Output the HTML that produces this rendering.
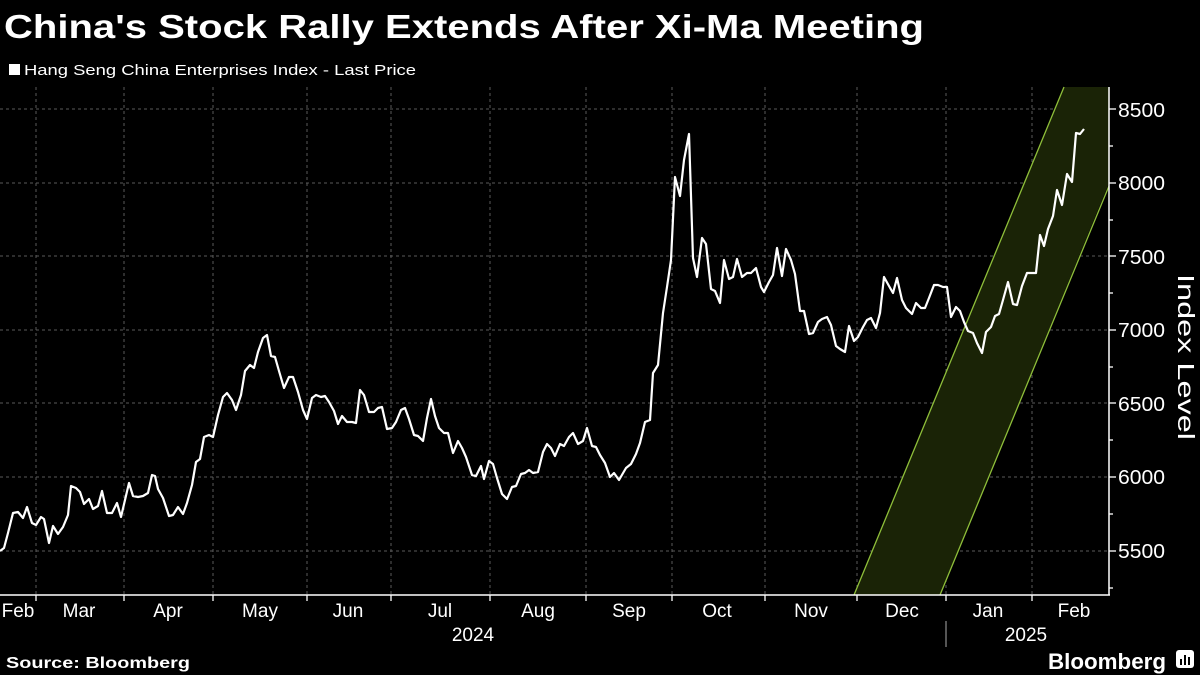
<!DOCTYPE html>
<html><head><meta charset="utf-8"><style>
html,body{margin:0;padding:0;background:#000;}
svg{display:block;}
text{font-family:"Liberation Sans","DejaVu Sans",sans-serif;fill:#fff;}
</style></head><body>
<svg width="1200" height="675" viewBox="0 0 1200 675" xmlns="http://www.w3.org/2000/svg">
<rect width="1200" height="675" fill="#000"/>
<text x="4" y="38" font-size="33" font-weight="bold" textLength="920" lengthAdjust="spacingAndGlyphs">China's Stock Rally Extends After Xi-Ma Meeting</text>
<rect x="9" y="64" width="11" height="11" fill="#fff"/>
<text x="24" y="75" font-size="15" fill="#e6e6e6" textLength="392" lengthAdjust="spacingAndGlyphs">Hang Seng China Enterprises Index - Last Price</text>
<g stroke="#5a5a5a" stroke-width="1" stroke-dasharray="3,3">
<line x1="0" y1="109" x2="1109" y2="109"/><line x1="0" y1="183" x2="1109" y2="183"/>
<line x1="0" y1="256" x2="1109" y2="256"/><line x1="0" y1="330" x2="1109" y2="330"/>
<line x1="0" y1="403" x2="1109" y2="403"/><line x1="0" y1="477" x2="1109" y2="477"/>
<line x1="0" y1="551" x2="1109" y2="551"/>
<line x1="36" y1="87" x2="36" y2="595"/><line x1="124" y1="87" x2="124" y2="595"/>
<line x1="213" y1="87" x2="213" y2="595"/><line x1="307" y1="87" x2="307" y2="595"/>
<line x1="391" y1="87" x2="391" y2="595"/><line x1="490" y1="87" x2="490" y2="595"/>
<line x1="586" y1="87" x2="586" y2="595"/><line x1="672" y1="87" x2="672" y2="595"/>
<line x1="765" y1="87" x2="765" y2="595"/><line x1="857" y1="87" x2="857" y2="595"/>
<line x1="946" y1="87" x2="946" y2="595"/><line x1="1032" y1="87" x2="1032" y2="595"/>
</g>
<polygon points="854,595 1064,87 1109,87 1109,183 940,595" fill="#1a2306"/>
<line x1="854" y1="595" x2="1064" y2="87" stroke="#8fbf3a" stroke-width="1.3"/>
<line x1="940" y1="595" x2="1109" y2="186" stroke="#8fbf3a" stroke-width="1.3"/>
<polyline fill="none" stroke="#fff" stroke-width="2.2" stroke-linejoin="round" points="0,551 4,548 8,533 13,513 18,512 23,518 27,507 32,523 36,525 41,517 44,519 49,543 53,526 58,534 63,527 68,515 71,486 76,488 80,492 84,504 89,499 93,509 98,506 102,491 107,513 112,513 117,503 121,517 125,500 129,483 133,496 138,497 143,496 148,493 152,475 155,476 158,489 163,498 169,516 173,515 178,507 183,514 187,503 192,485 196,462 200,459 204,437 209,435 213,437 218,415 223,397 227,393 232,400 236,410 241,395 245,371 250,365 254,368 258,352 263,338 267,335 271,356 275,357 279,371 284,388 289,377 293,377 298,392 303,410 307,419 312,398 316,395 321,397 325,396 329,402 334,411 338,424 342,416 347,422 352,422 356,423 360,390 364,395 369,412 374,412 378,408 382,407 387,429 392,428 396,422 401,410 405,408 409,419 414,435 418,436 423,441 427,418 431,399 435,416 439,428 444,433 448,433 453,453 458,441 462,448 466,457 472,475 476,476 481,466 484,479 489,461 493,464 497,478 502,494 507,499 512,487 516,486 521,474 525,473 529,470 533,473 538,472 543,452 547,444 551,448 555,456 560,444 564,446 569,437 573,433 578,444 583,441 587,428 592,446 596,447 600,455 605,463 610,477 614,473 619,480 626,468 631,464 636,454 640,443 645,422 650,420 653,373 658,365 663,313 667,287 671,260 675,177 680,196 684,160 689,134 693,258 697,277 702,238 706,244 711,289 715,291 720,303 724,260 729,279 733,277 737,259 742,277 747,273 751,273 756,268 761,287 764,292 769,282 773,275 777,248 782,276 786,249 791,260 795,274 800,311 804,311 809,334 813,333 818,322 822,319 827,317 831,325 836,346 840,349 845,352 849,326 854,341 858,337 863,327 867,320 871,318 876,328 880,313 884,277 889,286 893,293 897,278 902,300 906,308 912,314 916,303 921,308 925,308 929,298 934,285 938,285 943,287 947,287 951,317 956,307 960,311 964,322 968,331 973,333 977,343 982,353 986,332 991,327 995,316 999,314 1003,300 1008,282 1013,304 1017,305 1022,286 1027,273 1031,273 1036,273 1040,235 1044,246 1048,229 1053,216 1057,190 1062,205 1067,174 1072,182 1076,133 1080,134 1084,129"/>
<line x1="0" y1="595" x2="1110" y2="595" stroke="#fff" stroke-width="1.5"/>
<line x1="1109" y1="87" x2="1109" y2="595" stroke="#fff" stroke-width="1.5"/>
<g stroke="#fff" stroke-width="1.3">
<line x1="1109" y1="109" x2="1116" y2="109"/><line x1="1109" y1="183" x2="1116" y2="183"/>
<line x1="1109" y1="256" x2="1116" y2="256"/><line x1="1109" y1="330" x2="1116" y2="330"/>
<line x1="1109" y1="403" x2="1116" y2="403"/><line x1="1109" y1="477" x2="1116" y2="477"/>
<line x1="1109" y1="551" x2="1116" y2="551"/>
<line x1="1109" y1="146" x2="1113" y2="146"/><line x1="1109" y1="220" x2="1113" y2="220"/>
<line x1="1109" y1="293" x2="1113" y2="293"/><line x1="1109" y1="367" x2="1113" y2="367"/>
<line x1="1109" y1="440" x2="1113" y2="440"/><line x1="1109" y1="514" x2="1113" y2="514"/>
<line x1="1109" y1="588" x2="1113" y2="588"/>
<line x1="36" y1="595" x2="36" y2="601"/><line x1="124" y1="595" x2="124" y2="601"/>
<line x1="213" y1="595" x2="213" y2="601"/><line x1="307" y1="595" x2="307" y2="601"/>
<line x1="391" y1="595" x2="391" y2="601"/><line x1="490" y1="595" x2="490" y2="601"/>
<line x1="586" y1="595" x2="586" y2="601"/><line x1="672" y1="595" x2="672" y2="601"/>
<line x1="765" y1="595" x2="765" y2="601"/><line x1="857" y1="595" x2="857" y2="601"/>
<line x1="946" y1="595" x2="946" y2="601"/><line x1="1032" y1="595" x2="1032" y2="601"/>
</g>
<line x1="946" y1="621" x2="946" y2="647" stroke="#aaa" stroke-width="1"/>
<g font-size="20" fill="#fff">
<text x="1118" y="117" textLength="47" lengthAdjust="spacingAndGlyphs">8500</text><text x="1118" y="190" textLength="47" lengthAdjust="spacingAndGlyphs">8000</text>
<text x="1118" y="264" textLength="47" lengthAdjust="spacingAndGlyphs">7500</text><text x="1118" y="337" textLength="47" lengthAdjust="spacingAndGlyphs">7000</text>
<text x="1118" y="411" textLength="47" lengthAdjust="spacingAndGlyphs">6500</text><text x="1118" y="484" textLength="47" lengthAdjust="spacingAndGlyphs">6000</text>
<text x="1118" y="558" textLength="47" lengthAdjust="spacingAndGlyphs">5500</text>
</g>
<text transform="translate(1178,357) rotate(90)" font-size="23" text-anchor="middle" textLength="166" lengthAdjust="spacingAndGlyphs">Index Level</text>
<g font-size="19" text-anchor="middle">
<text x="18" y="617">Feb</text><text x="79" y="617">Mar</text><text x="168" y="617">Apr</text>
<text x="260" y="617">May</text><text x="348" y="617">Jun</text><text x="440" y="617">Jul</text>
<text x="538" y="617">Aug</text><text x="629" y="617">Sep</text><text x="717" y="617">Oct</text>
<text x="811" y="617">Nov</text><text x="902" y="617">Dec</text><text x="988" y="617">Jan</text>
<text x="1074" y="617">Feb</text>
<text x="473" y="641">2024</text><text x="1026" y="641">2025</text>
</g>
<text x="6" y="668" font-size="16" font-weight="bold" textLength="184" lengthAdjust="spacingAndGlyphs">Source: Bloomberg</text>
<text x="1048" y="669" font-size="22" font-weight="bold" textLength="118" lengthAdjust="spacingAndGlyphs">Bloomberg</text>
<rect x="1176" y="650" width="18" height="18" rx="3" fill="#fff"/>
<g fill="#000"><rect x="1180" y="659" width="2" height="6"/><rect x="1184" y="655" width="2" height="10"/><rect x="1188" y="657" width="2" height="8"/></g>
</svg>
</body></html>
